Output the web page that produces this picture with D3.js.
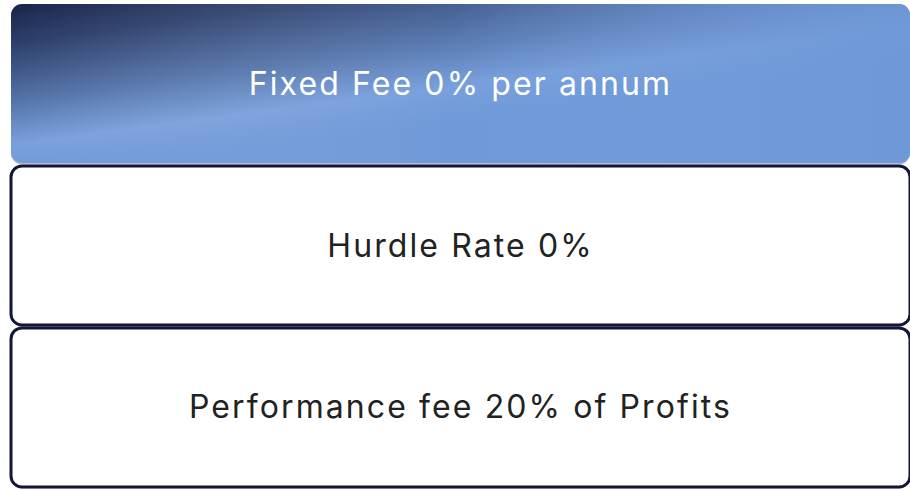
<!DOCTYPE html>
<html>
<head>
<meta charset="utf-8">
<script src="https://cdn.jsdelivr.net/npm/d3@7"></script>
<style>
  html, body { margin: 0; padding: 0; background: #fff; }
  #chart { width: 910px; height: 490px; }
</style>
</head>
<body>
<div id="chart"></div>
<script>
// fee terms, one box each
const labels = ['Fixed Fee 0% per annum', 'Hurdle Rate 0%', 'Performance fee 20% of Profits'];
const highlighted = [true, false, false];

const width = 910;
const height = 490;

const svg = d3.select('#chart').append('svg')
  .attr('width', width)
  .attr('height', height);

// gradient for the highlighted box
const defs = svg.append('defs');
const grad = defs.append('linearGradient')
  .attr('id', 'hl')
  .attr('gradientUnits', 'userSpaceOnUse')
  .attr('x1', 60).attr('y1', -20)
  .attr('x2', 85).attr('y2', 170);
[
  [0, '#10163a'],
  [0.3, '#2c3f6a'],
  [0.6, '#5473aa'],
  [0.82, '#78a0dc'],
  [0.9, '#729bd9'],
  [1, '#6d97d6']
].forEach(s => grad.append('stop').attr('offset', s[0]).attr('stop-color', s[1]));

// second gradient across the box so the right side stays light
const grad2 = defs.append('linearGradient')
  .attr('id', 'hl2')
  .attr('gradientUnits', 'userSpaceOnUse')
  .attr('x1', 0).attr('y1', 0)
  .attr('x2', 900).attr('y2', 0);
[
  [0, '#ffffff', 0],
  [0.5, '#7aa2de', 0.2],
  [1, '#6e98d6', 0.85]
].forEach(s => grad2.append('stop').attr('offset', s[0]).attr('stop-color', s[1]).attr('stop-opacity', s[2]));

const y = d3.scaleBand()
  .domain(labels)
  .range([4, 487])
  .paddingInner(0.018);

const x = d3.scaleLinear()
  .domain([0, 1])
  .range([11, 910]);

const boxes = svg.selectAll('.box')
  .data(labels)
  .enter()
  .append('g')
    .attr('class', 'box');

// faint shadow under each box
boxes.append('rect')
  .attr('x', x(0))
  .attr('y', d => y(d) + 1.5)
  .attr('width', x(1) - x(0))
  .attr('height', y.bandwidth())
  .attr('rx', 11)
  .attr('fill', '#b8bccc');

boxes.append('rect')
  .attr('x', x(0))
  .attr('y', d => y(d))
  .attr('width', x(1) - x(0))
  .attr('height', y.bandwidth())
  .attr('rx', 11)
  .attr('fill', (d, i) => highlighted[i] ? 'url(#hl)' : '#fff')
  .attr('stroke', (d, i) => highlighted[i] ? 'none' : '#12163a')
  .attr('stroke-width', 3);

boxes.filter((d, i) => highlighted[i])
  .append('rect')
  .attr('x', x(0))
  .attr('y', d => y(d))
  .attr('width', x(1) - x(0))
  .attr('height', y.bandwidth())
  .attr('rx', 11)
  .attr('fill', 'url(#hl2)');

boxes.append('text')
  .attr('x', (x(0) + width) / 2)
  .attr('y', d => y(d) + y.bandwidth() / 2 + 11)
  .attr('text-anchor', 'middle')
  .attr('font-family', 'Inter, sans-serif')
  .attr('font-size', 32)
  .attr('letter-spacing', 2.1)
  .attr('fill', (d, i) => highlighted[i] ? '#fff' : '#222')
  .text(d => d);
</script>
</body>
</html>
